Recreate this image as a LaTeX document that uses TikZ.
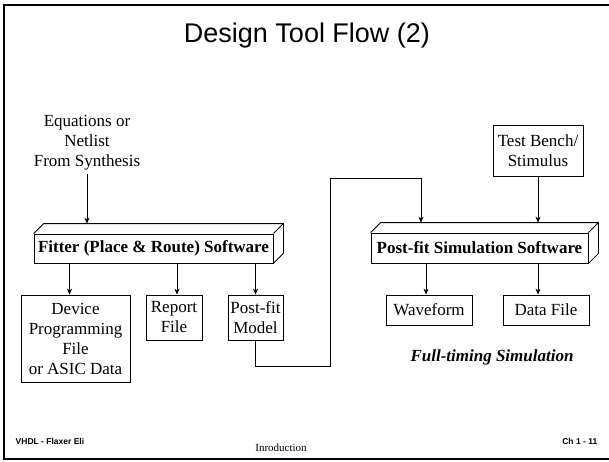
\documentclass[tikz,border=0pt]{standalone}
\usepackage{fontspec}
\setmainfont{Liberation Serif}
\setsansfont{Liberation Sans}
\usetikzlibrary{arrows.meta}

\newcommand\flowfont{\fontsize{17}{20}\selectfont}
% top and right faces of a software block
\newcommand\boxdepth[1]{%
  \draw (#1.north west) -- ([shift={(10pt,10pt)}]#1.north west)
    -- ([shift={(10pt,10pt)}]#1.north east) -- ([shift={(10pt,10pt)}]#1.south east)
    -- (#1.south east) (#1.north east) -- ([shift={(10pt,10pt)}]#1.north east);}

\tikzset{
  flow/.style={draw, line width=0.8pt, inner sep=0pt, align=center, font=\flowfont},
  software/.style={flow, font=\flowfont\bfseries},
  link/.style={line width=0.8pt, -{Stealth[length=6pt,width=5pt]}},
}

\begin{document}
\begin{tikzpicture}[x=1pt, y=-1pt, line width=0.8pt]
  \useasboundingbox (0,0) rectangle (609,461);
  \draw[line width=2.5pt] (612,5) -- (4,5) -- (4,459) -- (612,459);

  \node[font=\sffamily\fontsize{27}{32}\selectfont] (title) at (307,36) {Design Tool Flow (2)};

  \node[align=center, font=\flowfont] (eqn) at (87,143) {Equations or\\Netlist\\From Synthesis};
  \node[software, minimum width=239pt, minimum height=29pt] (fitter) at (153.5,248.5)
    {Fitter (Place \& Route) Software};
  \boxdepth{fitter}
  \node[flow, minimum width=109pt, minimum height=87pt] (device) at (75.5,338.5)
    {Device\\Programming\\File\\or ASIC Data};
  \node[flow, minimum width=56pt, minimum height=45pt] (report) at (174,317.5) {Report\\File};
  \node[flow, minimum width=55pt, minimum height=45pt] (model) at (255.5,317.5) {Post-fit\\Model};

  \node[flow, minimum width=90pt, minimum height=51pt] (bench) at (538,150.5) {Test Bench/\\Stimulus};
  \node[software, minimum width=217pt, minimum height=30pt] (sim) at (479.5,248)
    {Post-fit Simulation Software};
  \boxdepth{sim}
  \node[flow, minimum width=86pt, minimum height=30pt] (wave) at (429,310) {Waveform};
  \node[flow, minimum width=86pt, minimum height=30pt] (data) at (546,310) {Data File};
  \node[font=\flowfont\bfseries\itshape] (timing) at (492,357) {Full-timing Simulation};

  \coordinate (fittertop) at ([yshift=10pt]fitter.north);
  \coordinate (simtop) at ([yshift=10pt]sim.north);
  \coordinate (jog) at (330,178);

  \draw[link] (eqn.south) -- (eqn.south |- fittertop);
  \draw[link] ([xshift=-6pt]device.north |- fitter.south) -- ([xshift=-6pt]device.north);
  \draw[link] ([xshift=3pt]report.north |- fitter.south) -- ([xshift=3pt]report.north);
  \draw[link] (model.north |- fitter.south) -- (model.north);
  \draw[link] (model.south) -- ++(0,26) -| (jog) -| (421,0 |- simtop);
  \draw[link] (bench.south) -- (bench.south |- simtop);
  \draw[link] ([xshift=-3pt]wave.north |- sim.south) -- ([xshift=-3pt]wave.north);
  \draw[link] ([xshift=-8pt]data.north |- sim.south) -- ([xshift=-8pt]data.north);

  \node[anchor=west, font=\sffamily\bfseries\fontsize{8.5}{10}\selectfont] (author) at (12,441) {VHDL - Flaxer Eli};
  \node[font=\fontsize{11}{13}\selectfont] (chapter) at (281,448) {Inroduction};
  \node[anchor=east, font=\sffamily\bfseries\fontsize{8.5}{10}\selectfont] (page) at (601,441) {Ch 1 - 11};
\end{tikzpicture}
\end{document}
